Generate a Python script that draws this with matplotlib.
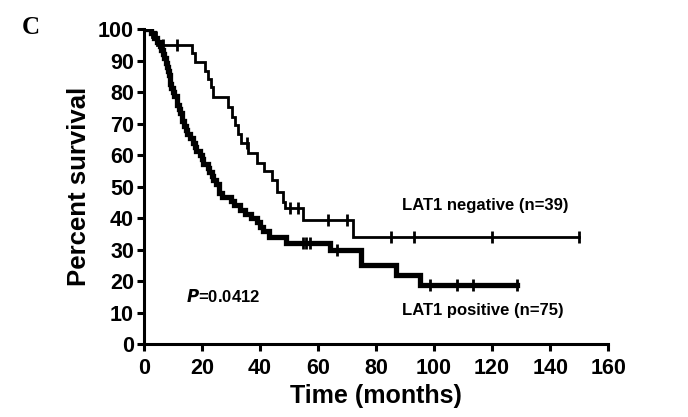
import numpy as np
import matplotlib
matplotlib.use("Agg")
import matplotlib.pyplot as plt

# ── Kaplan-Meier step data ───────────────────────────────────────
neg_time = [0, 2.8, 4.5, 16.5, 17.6, 21, 22, 23, 24, 29, 30.5, 31.5, 32.5,
            33.5, 36, 39, 41.5, 44, 46, 48, 48.5, 54.8, 72, 150]
neg_surv = [100, 97.4, 94.9, 92.4, 89.5, 86.8, 84.2, 81.6, 78.4, 75.2, 72.2,
            69.5, 66.8, 63.8, 60.6, 57.5, 54.8, 52.0, 48.4, 45.2, 43.2, 39.4,
            34.0, 34.0]
neg_cens_t = [4.1, 6.6, 11.4, 35.5, 50.3, 53.1, 63.4, 70, 85, 93, 120, 150]

pos_time = [0, 2.5, 3.5, 4.5, 5.5, 6, 6.5, 7, 7.5, 8, 8.3, 8.6, 8.9, 9.2,
            9.5, 10, 10.5, 11.3, 11.6, 12, 12.5, 13, 13.3, 13.7, 14.5, 15,
            16, 17, 17.5, 18, 19.5, 20, 20.5, 22, 22.5, 23.5, 24, 25, 25.8,
            26, 27, 30, 31, 33, 35, 37, 39, 40, 41, 43, 49, 64, 75, 87, 95,
            128.6]
pos_surv = [100, 98.7, 97.3, 96.0, 94.7, 93.3, 92.0, 90.7, 89.3, 88.0, 86.7,
            85.3, 84.0, 82.7, 81.3, 80.0, 78.7, 77.3, 76.0, 74.7, 73.3, 72.0,
            70.7, 69.3, 68.0, 66.7, 65.3, 64.0, 62.7, 61.3, 60.0, 58.7, 57.3,
            56.0, 54.7, 53.3, 52.0, 50.7, 49.3, 48.0, 46.7, 45.3, 44.0, 42.7,
            41.3, 40.0, 38.7, 37.3, 36.0, 34.0, 32.0, 29.8, 25.0, 21.9, 18.7,
            18.7]
pos_cens_t = [55, 56, 57.2, 66.5, 98.6, 108, 113.4, 128.6]

x_ticks = [0, 20, 40, 60, 80, 100, 120, 140, 160]
y_ticks = [0, 10, 20, 30, 40, 50, 60, 70, 80, 90, 100]


def surv_at(times, survs, t):
    idx = np.searchsorted(times, t, side="right") - 1
    return survs[idx]


plt.rcParams["font.family"] = ["Liberation Sans", "DejaVu Sans"]
plt.rcParams["font.weight"] = "bold"

fig = plt.figure(figsize=(6.88, 4.17), dpi=100)
ax = fig.add_axes([0.209, 0.175, 0.675, 0.755])

# curves
ax.plot(neg_time, neg_surv, drawstyle="steps-post", color="black", lw=2.0,
        solid_joinstyle="miter")
ax.plot(pos_time, pos_surv, drawstyle="steps-post", color="black", lw=3.8,
        solid_joinstyle="miter")

# censor marks
ax.plot(neg_cens_t, [surv_at(neg_time, neg_surv, t) for t in neg_cens_t],
        ls="none", marker="|", ms=8, mew=2, color="black")
ax.plot(pos_cens_t, [surv_at(pos_time, pos_surv, t) for t in pos_cens_t],
        ls="none", marker="|", ms=8, mew=2, color="black")

ax.set_xlim(0, 160)
ax.set_ylim(0, 100)
ax.set_xticks(x_ticks)
ax.set_yticks(y_ticks)
ax.spines["top"].set_visible(False)
ax.spines["right"].set_visible(False)
for s in ["left", "bottom"]:
    ax.spines[s].set_linewidth(2.2)
ax.tick_params(width=2.2, length=5, labelsize=15.5)
ax.tick_params(axis="x", pad=5)
ax.tick_params(axis="y", pad=2)
for lab in ax.get_xticklabels() + ax.get_yticklabels():
    lab.set_fontweight("bold")

ax.set_xlabel("Time (months)", fontsize=18, fontweight="bold", labelpad=4)
ax.set_ylabel("Percent survival", fontsize=18.5, fontweight="bold", labelpad=5)

ax.text(14.5, 15, "$\\boldsymbol{P}$=0.0412", fontsize=12, fontweight="bold",
        va="center", ha="left")
ax.text(89, 44, "LAT1 negative (n=39)", fontsize=12, fontweight="bold",
        va="center", ha="left")
ax.text(89, 10.7, "LAT1 positive (n=75)", fontsize=12, fontweight="bold",
        va="center", ha="left")

fig.text(0.031, 0.935, "C", fontsize=18, fontweight="bold",
         family="Liberation Serif", va="center", ha="left")

plt.savefig("out.png", dpi=100)
plt.close()
